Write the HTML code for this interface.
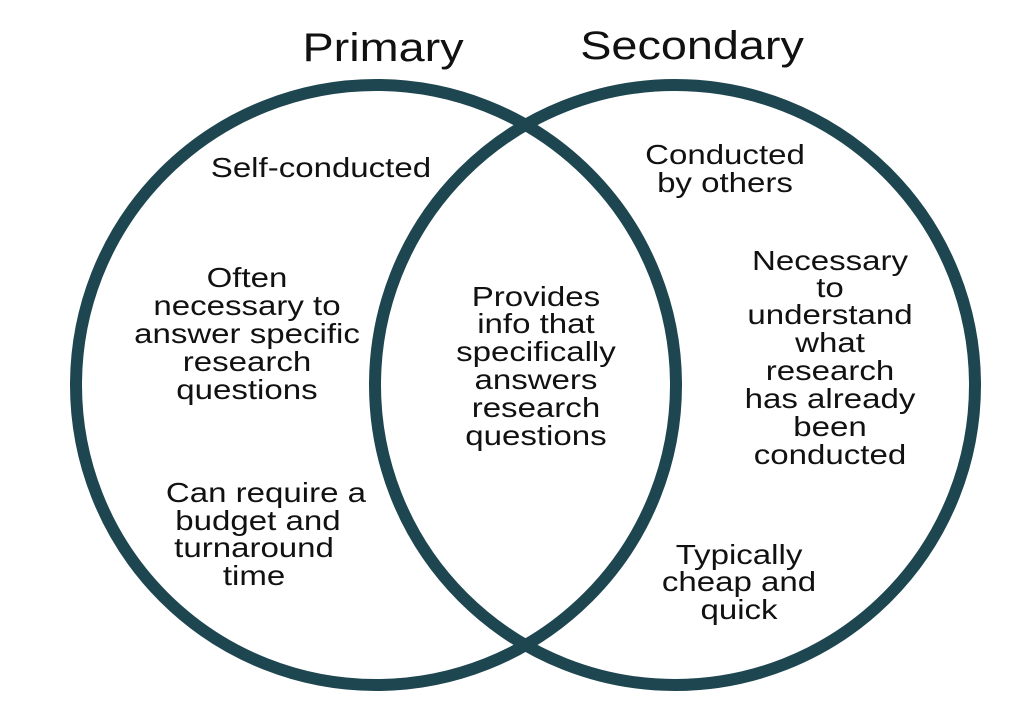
<!DOCTYPE html>
<html><head><meta charset="utf-8"><style>
html,body{margin:0;padding:0;background:#fff;}
svg{display:block;}
text{font-family:"Liberation Sans",sans-serif;fill:#111;text-anchor:middle;dominant-baseline:central;}
.t{font-size:28px;}
.h{font-size:40px;}
</style></head><body>
<svg width="1022" height="710" viewBox="0 0 1022 710">
<circle cx="376" cy="385" r="300" fill="none" stroke="#1e4650" stroke-width="12"/>
<circle cx="675" cy="385" r="300" fill="none" stroke="#1e4650" stroke-width="12"/>
<g transform="scale(1.17,1)">
<text class="h" x="327.4" y="48">Primary</text>
<text class="h" x="591.5" y="46">Secondary</text>
</g>
<g class="t" transform="scale(1.18,1)">
<text x="272" y="168">Self-conducted</text>
<text x="209.3" y="278">Often</text>
<text x="209.3" y="306">necessary to</text>
<text x="209.3" y="334">answer specific</text>
<text x="209.3" y="362">research</text>
<text x="209.3" y="390">questions</text>
<text x="225.4" y="493">Can require a</text>
<text x="218.6" y="521">budget and</text>
<text x="215.3" y="548">turnaround</text>
<text x="215.3" y="576">time</text>
<text x="454.2" y="297">Provides</text>
<text x="454.2" y="324">info that</text>
<text x="454.2" y="352">specifically</text>
<text x="454.2" y="380">answers</text>
<text x="454.2" y="408">research</text>
<text x="454.2" y="436">questions</text>
<text x="614.4" y="155">Conducted</text>
<text x="614.4" y="183">by others</text>
<text x="703.4" y="261">Necessary</text>
<text x="703.4" y="288">to</text>
<text x="703.4" y="315">understand</text>
<text x="703.4" y="343">what</text>
<text x="703.4" y="371">research</text>
<text x="703.4" y="399">has already</text>
<text x="703.4" y="427">been</text>
<text x="703.4" y="455">conducted</text>
<text x="626.3" y="555">Typically</text>
<text x="626.3" y="582">cheap and</text>
<text x="626.3" y="610">quick</text>
</g>
</svg>
</body></html>
